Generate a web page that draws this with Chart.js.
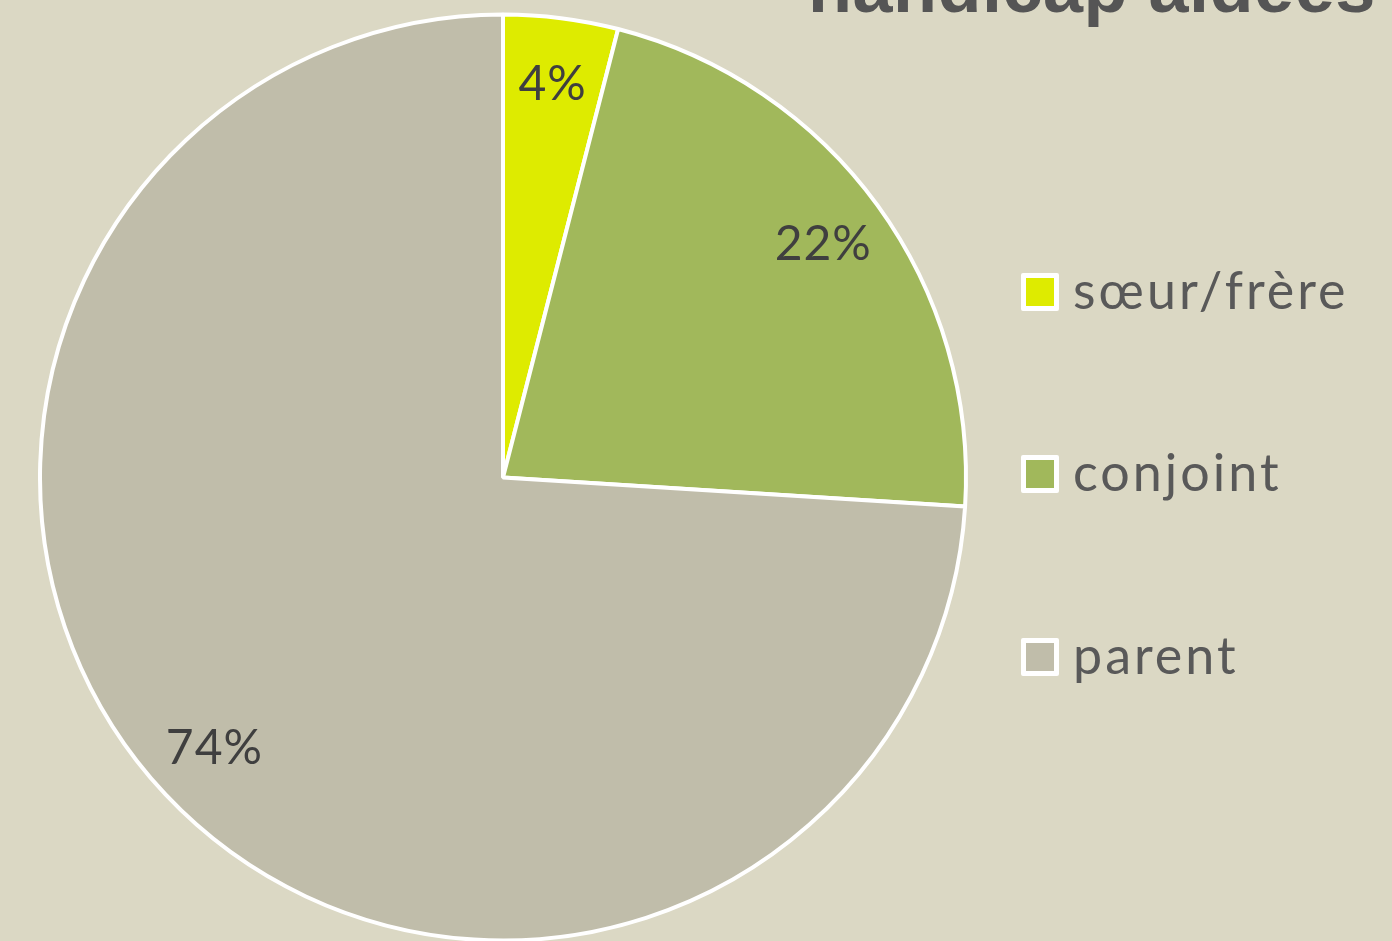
<!DOCTYPE html>
<html>
<head>
<meta charset="utf-8">
<script src="https://cdn.jsdelivr.net/npm/chart.js@4/dist/chart.umd.min.js"></script>
<style>
  html, body { margin: 0; padding: 0; background: #dbd8c4; overflow: hidden; }
  #wrap { position: relative; width: 1392px; height: 941px; }
  #chart { position: absolute; left: 0; top: 0; }
  #title { position: absolute; left: 808px; top: -49px; font: bold 72px "Liberation Sans", Arial, sans-serif;
           line-height: 72px; color: #555555; white-space: nowrap; letter-spacing: 0.5px; }
  .leg { position: absolute; left: 1021px; font: 52px Lato, "Open Sans", sans-serif; color: #595959;
         white-space: nowrap; letter-spacing: 3px; }
  .leg span.box { position: absolute; left: 0; width: 28px; height: 28px; border: 5px solid #ffffff; border-radius: 2px; }
  .leg span.txt { position: absolute; left: 52px; top: -10px; line-height: 52px; }
</style>
</head>
<body>
<div id="wrap">
  <canvas id="chart" width="1392" height="941"></canvas>
  <div id="title">handicap aidées</div>
  <div id="legend"></div>
</div>
<script>
// data
var categories = ['sœur/frère', 'conjoint', 'parent'];
var values = [4, 22, 74];
var colors = ['#deeb00', '#a1b85b', '#c0bdaa'];
var legendTops = [273, 455, 638];

// html legend
var legendEl = document.getElementById('legend');
categories.forEach(function (name, i) {
    var row = document.createElement('div');
    row.className = 'leg';
    row.style.top = legendTops[i] + 'px';
    row.innerHTML = '<span class="box" style="background:' + colors[i] + '"></span>' +
        '<span class="txt">' + name + '</span>';
    legendEl.appendChild(row);
});

// percent labels inside the slices
var sliceLabels = {
    id: 'sliceLabels',
    afterDatasetsDraw: function (chart) {
        var ctx = chart.ctx;
        var meta = chart.getDatasetMeta(0);
        var total = values.reduce(function (a, b) { return a + b; }, 0);
        ctx.save();
        ctx.font = '48px Lato, "Open Sans", sans-serif';
        ctx.letterSpacing = '1px';
        ctx.fillStyle = '#3f3f3f';
        ctx.textAlign = 'center';
        ctx.textBaseline = 'middle';
        meta.data.forEach(function (arc, i) {
            var mid = (arc.startAngle + arc.endAngle) / 2;
            var r = arc.outerRadius * 0.855;
            var x = arc.x + Math.cos(mid) * r;
            var y = arc.y + Math.sin(mid) * r;
            ctx.fillText(Math.round(values[i] / total * 100) + '%', x, y);
        });
        ctx.restore();
    }
};

var ctx = document.getElementById('chart').getContext('2d');
var pieChart = new Chart(ctx, {
    type: 'pie',
    data: {
        labels: categories,
        datasets: [{
            data: values,
            backgroundColor: colors,
            borderColor: '#ffffff',
            borderWidth: 4,
            radius: 463
        }]
    },
    options: {
        responsive: false,
        animation: false,
        layout: { padding: { top: 14, right: 386, left: 0, bottom: 0 } },
        plugins: {
            legend: { display: false },
            tooltip: { enabled: false }
        }
    },
    plugins: [sliceLabels]
});
</script>
</body>
</html>
